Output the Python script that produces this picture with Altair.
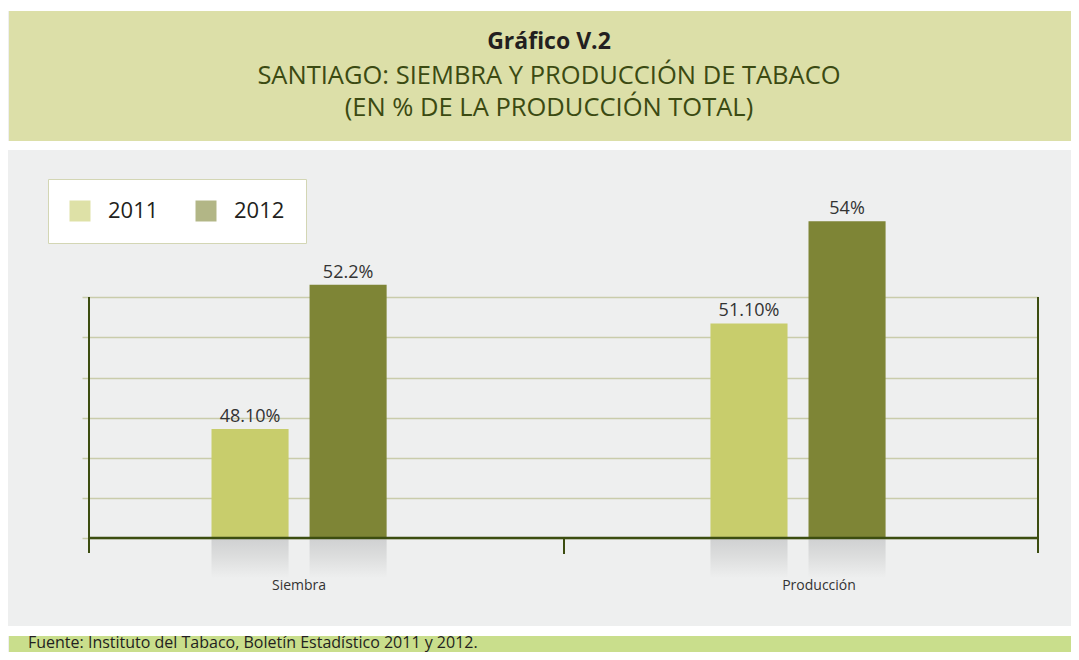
import altair as alt
import pandas as pd

# ---------------- data ----------------
CATEGORIES = ["Siembra", "Siembra", "Producción", "Producción"]
YEARS = ["2011", "2012", "2011", "2012"]
VALUES = [48.10, 52.2, 51.10, 54.0]
VALUE_LABELS = ["48.10%", "52.2%", "51.10%", "54%"]
CATEGORY_ORDER = ["Siembra", "Producción"]
YEAR_ORDER = ["2011", "2012"]
GRID_VALUES = [45.0, 46.14, 47.28, 48.42, 49.56, 50.71, 51.85]
Y_DOMAIN = [45.0, 51.85]

TITLE = "Gráfico V.2"
SUBTITLE_1 = "SANTIAGO: SIEMBRA Y PRODUCCIÓN DE TABACO"
SUBTITLE_2 = "(EN % DE LA PRODUCCIÓN TOTAL)"
SOURCE = "Fuente: Instituto del Tabaco, Boletín Estadístico 2011 y 2012."

# ---------------- styles ----------------
BAR_COLORS = ["#c8cd6c", "#7e8536"]
BAND_COLOR = "#dcdfa8"
FOOTER_COLOR = "#c9de8c"
PLOT_BG = "#eeefef"
AXIS_DARK = "#3c4d10"
GRID_COLOR = "#c9ccab"
TEXT_DARK = "#231f20"
TITLE_OLIVE = "#3b4a12"
FONT = "Open Sans"

W, H = 949, 241

df = pd.DataFrame({"categoria": CATEGORIES, "anio": YEARS,
                   "valor": VALUES, "etiqueta": VALUE_LABELS})
df["base"] = Y_DOMAIN[0]
one = pd.DataFrame({"k": [0]})

x_enc = alt.X("categoria:N", sort=CATEGORY_ORDER,
              scale=alt.Scale(paddingInner=0.649, paddingOuter=0.2755, align=0.4456),
              axis=alt.Axis(title=None, domain=False, ticks=False, labelAngle=0,
                            labelPadding=47, labelFontSize=14, labelFont=FONT,
                            labelColor="#333333", labelBaseline="middle",
                            labelOffset={"condition": {"test": "datum.value === 'Producción'",
                                                       "value": 21},
                                         "value": 0}))
xoff_enc = alt.XOffset("anio:N", sort=YEAR_ORDER,
                       scale=alt.Scale(paddingInner=0.214, paddingOuter=0))
y_enc = alt.Y("valor:Q",
              scale=alt.Scale(domain=Y_DOMAIN, nice=False, zero=False),
              axis=alt.Axis(title=None, values=GRID_VALUES, labels=False, domain=False,
                            ticks=True, tickSize=7, tickColor=GRID_COLOR, tickWidth=1.5,
                            grid=True, gridColor=GRID_COLOR, gridWidth=1.5))


def rect(x, x2, y, y2, color):
    return alt.Chart(one).mark_rect(color=color).encode(
        x=alt.value(x), x2=alt.value(x2), y=alt.value(y), y2=alt.value(y2))


def rule(x, x2, y, y2, width):
    return alt.Chart(one).mark_rule(color=AXIS_DARK, strokeWidth=width).encode(
        x=alt.value(x), x2=alt.value(x2), y=alt.value(y), y2=alt.value(y2))


def label(text, x, y, size, color, weight="normal", align="center"):
    return alt.Chart(one).mark_text(fontSize=size, font=FONT, color=color,
                                    fontWeight=weight, align=align,
                                    baseline="middle").encode(
        x=alt.value(x), y=alt.value(y), text=alt.value(text))


# background pieces
top_white = rect(-90, 1000, -290, -286, "white")
title_band = rect(-80, 1000, -286, -156, BAND_COLOR)
gap1 = rect(-90, 1000, -156, -147, "white")
gap2 = rect(-90, 1000, 329, 339, "white")
footer_band = rect(-80, 1000, 339, 370, FOOTER_COLOR)

# soft shadow under bars (vertical fade)
shadow_fill = alt.Gradient(gradient="linear", x1=0, y1=0, x2=0, y2=1,
                           stops=[alt.GradientStop(color="#cfd0d1", offset=0),
                                  alt.GradientStop(color="#dcdddd", offset=0.45),
                                  alt.GradientStop(color=PLOT_BG, offset=1)])
shadow = alt.Chart(df).mark_bar(color=shadow_fill).encode(
    x=x_enc, xOffset=xoff_enc, y=alt.value(H), y2=alt.value(H + 40))

bars = alt.Chart(df).mark_bar().encode(
    x=x_enc, xOffset=xoff_enc, y=y_enc, y2=alt.Y2("base:Q"),
    color=alt.Color("anio:N", sort=YEAR_ORDER,
                    scale=alt.Scale(domain=YEAR_ORDER, range=BAR_COLORS),
                    legend=alt.Legend(title=None, orient="none", legendX=-41, legendY=-118,
                                      direction="horizontal", fillColor="white",
                                      strokeColor="#d3d6b4", padding=21,
                                      symbolType="square", symbolSize=441,
                                      symbolStrokeWidth=0, symbolOpacity=0.6,
                                      labelFontSize=22, labelFont=FONT,
                                      labelColor=TEXT_DARK, labelOffset=17,
                                      columnPadding=36)))

texts = alt.Chart(df).mark_text(fontSize=18, font=FONT, color="#333333",
                                baseline="bottom", dy=-3).encode(
    x=x_enc, xOffset=xoff_enc, y=alt.Y("valor:Q"), text="etiqueta:N")

# axis frame
left_axis = rule(0, 0, 0, 256, 2)
right_axis = rule(W, W, 0, 256, 2)
base_line = rule(0, W, H, H, 2.5)
mid_tick = rule(475, 475, H, 257, 2)

t1 = label(TITLE, 460, -255, 23, TEXT_DARK, weight="bold")
t2 = label(SUBTITLE_1, 460, -221, 25.5, TITLE_OLIVE)
t3 = label(SUBTITLE_2, 460, -189, 25.5, TITLE_OLIVE)
src = label(SOURCE, -61, 346, 16, TEXT_DARK, align="left")

chart = alt.layer(
    top_white, title_band, gap1, gap2, footer_band,
    shadow, bars, texts,
    left_axis, right_axis, base_line, mid_tick,
    t1, t2, t3, src,
).properties(
    width=W, height=H,
    autosize=alt.AutoSizeParams(type="none"),
    padding={"left": 81, "top": 289, "right": 33, "bottom": 114},
    background=PLOT_BG,
).configure_view(stroke=None)

chart.save("out.html", embed_options={"renderer": "svg", "actions": False})
